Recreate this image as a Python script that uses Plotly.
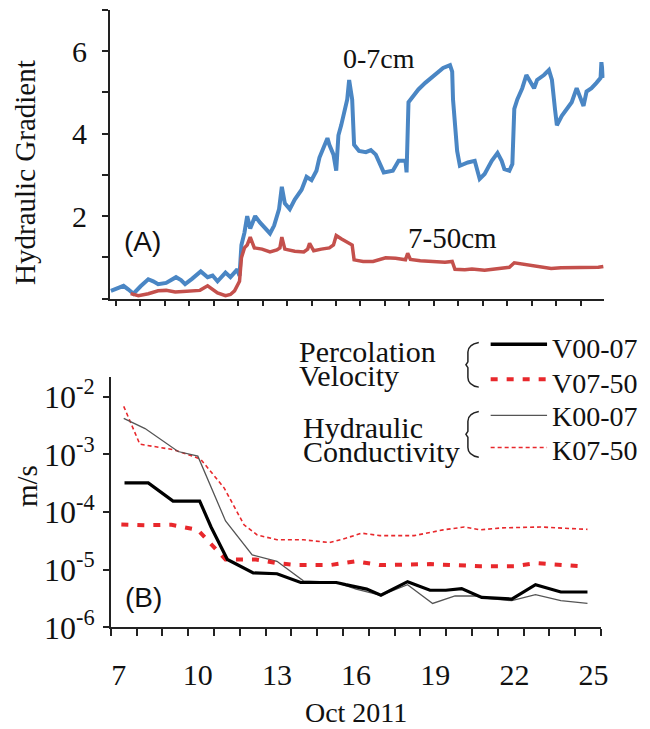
import plotly.graph_objects as go

W, H = 650, 729

# ---- Panel A: hydraulic gradient (days in Oct 2011) ----
grad_top_day = [7.04, 7.25, 7.50, 7.68, 7.86, 8.12, 8.40, 8.58, 8.76, 9.05, 9.41, 9.59, 9.74, 9.99,
                 10.20, 10.31, 10.56, 10.74, 10.92, 11.21, 11.39, 11.64, 11.72, 11.79, 11.90, 12.00,
                 12.11, 12.29, 12.47, 12.65, 12.83, 12.98, 13.16, 13.26, 13.37, 13.55, 13.73, 13.98,
                 14.16, 14.34, 14.52, 14.63, 14.78, 14.92, 14.99, 15.14, 15.24, 15.32, 15.42, 15.53,
                 15.64, 15.71, 15.82, 15.89, 16.07, 16.32, 16.50, 16.68, 16.86, 16.97, 17.30, 17.51,
                 17.76, 17.80, 17.87, 18.02, 18.23, 18.48, 18.84, 19.13, 19.38, 19.46, 19.49, 19.64,
                 19.74, 20.03, 20.28, 20.39, 20.46, 20.64, 20.90, 21.11, 21.26, 21.36, 21.54, 21.65,
                 21.72, 21.83, 22.01, 22.16, 22.26, 22.44, 22.55, 22.80, 22.98, 23.09, 23.20, 23.27,
                 23.45, 23.63, 23.81, 23.99, 24.14, 24.24, 24.35, 24.53, 24.71, 24.86, 24.89, 24.96]
grad_top = [0.19, 0.25, 0.31, 0.22, 0.12, 0.30, 0.47, 0.42, 0.35, 0.38, 0.52, 0.45, 0.35, 0.48,
            0.59, 0.66, 0.52, 0.56, 0.42, 0.63, 0.52, 0.71, 0.55, 1.30, 1.60, 2.00,
            1.70, 2.00, 1.84, 1.70, 1.58, 1.77, 2.17, 2.71, 2.31, 2.17, 2.40, 2.64,
            2.95, 2.87, 3.10, 3.42, 3.65, 3.89, 3.73, 3.49, 3.10, 3.96, 4.20, 4.52,
            4.83, 5.30, 4.83, 3.73, 3.58, 3.55, 3.60, 3.49, 3.22, 3.06, 3.10, 3.34,
            3.34, 3.06, 4.76, 4.90, 5.07, 5.23, 5.42, 5.59, 5.66, 5.50, 4.83, 3.58,
            3.22, 3.30, 3.34, 3.10, 2.90, 3.02, 3.34, 3.53, 3.34, 3.14, 3.10, 3.26,
            4.60, 4.83, 5.10, 5.42, 5.30, 5.10, 5.30, 5.42, 5.54, 5.30, 4.60, 4.20,
            4.43, 4.60, 4.76, 5.10, 4.80, 4.67, 5.02, 5.10, 5.23, 5.35, 5.73, 5.35]

grad_sub_day = [7.76, 8.04, 8.40, 8.76, 9.05, 9.38, 9.66, 9.95, 10.28, 10.56, 10.74, 10.92, 11.21,
                11.39, 11.54, 11.72, 11.79, 11.90, 12.00, 12.11, 12.26, 12.54, 12.83, 13.08, 13.19,
                13.26, 13.37, 13.73, 14.06, 14.20, 14.27, 14.42, 14.70, 14.99, 15.14, 15.24, 15.42,
                15.60, 15.71, 15.82, 15.89, 16.22, 16.58, 16.79, 17.04, 17.40, 17.76, 17.84, 17.94,
                18.30, 18.74, 19.20, 19.46, 19.56, 19.92, 20.18, 20.64, 20.90, 21.18, 21.36, 21.54,
                21.72, 22.08, 22.34, 22.70, 23.06, 23.42, 23.78, 24.14, 24.50, 24.78, 24.96]
grad_sub = [0.12, 0.07, 0.12, 0.19, 0.20, 0.16, 0.17, 0.19, 0.20, 0.31, 0.22, 0.14, 0.07,
            0.10, 0.19, 0.42, 0.99, 1.23, 1.30, 1.49, 1.23, 1.20, 1.13, 1.18, 1.23,
            1.49, 1.20, 1.15, 1.13, 1.20, 1.34, 1.16, 1.20, 1.23, 1.30, 1.53, 1.45,
            1.38, 1.34, 1.30, 0.94, 0.90, 0.90, 0.95, 0.99, 0.98, 0.94, 1.10, 0.95,
            0.92, 0.90, 0.88, 0.90, 0.71, 0.70, 0.72, 0.69, 0.71, 0.72, 0.75, 0.76,
            0.87, 0.83, 0.80, 0.78, 0.73, 0.75, 0.75, 0.74, 0.75, 0.76, 0.78]

grad_ticks = [2, 4, 6]

# ---- Panel B: percolation velocity and hydraulic conductivity (m/s) ----
v0007_day = [7.22, 8.12, 9.06, 10.07, 10.50, 11.12, 12.10, 13.00, 13.90, 15.25, 15.60, 16.40,
             16.94, 17.95, 18.80, 19.40, 20.00, 20.76, 21.90, 22.80, 23.76, 24.77]
v0007 = [3.2e-4, 3.2e-4, 1.55e-4, 1.55e-4, 5.5e-5, 1.5e-5, 8.8e-6, 8.5e-6, 6.0e-6, 6.0e-6, 5.5e-6, 4.6e-6,
         3.6e-6, 6.2e-6, 4.4e-6, 4.4e-6, 4.7e-6, 3.3e-6, 3.1e-6, 5.5e-6, 4.1e-6, 4.1e-6]

v0750_day = [7.10, 8.00, 9.00, 10.00, 11.05, 12.20, 13.00, 13.75, 15.00, 16.00, 16.90, 18.80,
             20.70, 22.00, 22.80, 24.50]
v0750 = [6.1e-5, 5.9e-5, 6.0e-5, 4.9e-5, 1.5e-5, 1.5e-5, 1.3e-5, 1.2e-5, 1.2e-5, 1.4e-5, 1.2e-5, 1.25e-5,
         1.15e-5, 1.15e-5, 1.3e-5, 1.15e-5]

k0007_day = [7.19, 8.00, 9.25, 10.00, 11.05, 12.06, 13.00, 14.00, 15.25, 16.00, 16.94, 17.95,
             18.90, 19.75, 20.50, 20.90, 21.90, 22.80, 23.76, 24.77]
k0007 = [4.2e-3, 2.8e-3, 1.12e-3, 9.3e-4, 7.0e-5, 1.8e-5, 1.4e-5, 6.4e-6, 6.0e-6, 4.6e-6, 3.6e-6, 5.5e-6,
         2.6e-6, 3.5e-6, 3.5e-6, 3.2e-6, 2.9e-6, 3.7e-6, 2.9e-6, 2.6e-6]

k0750_day = [7.19, 7.80, 9.10, 10.10, 11.00, 11.75, 12.25, 13.00, 14.00, 15.00, 15.60, 16.20,
             16.90, 18.20, 19.30, 20.10, 20.70, 21.50, 23.00, 24.77]
k0750 = [6.8e-3, 1.5e-3, 1.2e-3, 8.3e-4, 2.6e-4, 6.0e-5, 4.0e-5, 3.3e-5, 3.3e-5, 2.95e-5, 3.5e-5, 4.3e-5,
         3.9e-5, 3.9e-5, 4.9e-5, 5.5e-5, 4.9e-5, 5.3e-5, 5.5e-5, 5.0e-5]

day_ticks = [7, 10, 13, 16, 19, 22, 25]
ms_ticks = [1e-6, 1e-5, 1e-4, 1e-3, 1e-2]
ms_ticktext = ["10<sup>-6</sup>", "10<sup>-5</sup>", "10<sup>-4</sup>", "10<sup>-3</sup>", "10<sup>-2</sup>"]

BLUE = "#4a86c4"
BROWN_RED = "#c4504c"
RED = "#e8282c"
SERIF = "Liberation Serif"
SANS = "Liberation Sans"

V_DASH = "7px,9px"
K_DASH = "4px,3px"


def px(x):
    return x / W


def py(y):
    return 1 - y / H


fig = go.Figure()

fig.add_trace(go.Scatter(x=grad_top_day, y=grad_top, mode="lines", xaxis="x", yaxis="y",
                         line=dict(color=BLUE, width=4), showlegend=False))
fig.add_trace(go.Scatter(x=grad_sub_day, y=grad_sub, mode="lines", xaxis="x", yaxis="y",
                         line=dict(color=BROWN_RED, width=3.5), showlegend=False))

fig.add_trace(go.Scatter(x=k0750_day, y=k0750, mode="lines", xaxis="x2", yaxis="y2",
                         line=dict(color=RED, width=1.6, dash=K_DASH), showlegend=False))
fig.add_trace(go.Scatter(x=k0007_day, y=k0007, mode="lines", xaxis="x2", yaxis="y2",
                         line=dict(color="#555555", width=1.3), showlegend=False))
fig.add_trace(go.Scatter(x=v0750_day, y=v0750, mode="lines", xaxis="x2", yaxis="y2",
                         line=dict(color=RED, width=4, dash=V_DASH), showlegend=False))
fig.add_trace(go.Scatter(x=v0007_day, y=v0007, mode="lines", xaxis="x2", yaxis="y2",
                         line=dict(color="black", width=3.2), showlegend=False))

axis_common = dict(showline=True, linecolor="#222222", linewidth=1.5, showgrid=False,
                   zeroline=False, tickcolor="#222222", tickwidth=1.5)

fig.update_layout(
    width=W, height=H,
    margin=dict(l=0, r=0, t=0, b=0),
    paper_bgcolor="white", plot_bgcolor="white",
    font=dict(family=SERIF, color="#111111"),
    xaxis=dict(domain=[px(111), px(611)], range=[7, 25], anchor="y",
               tickmode="array", tickvals=[], ticks="", showticklabels=False,
               minor=dict(ticks="outside", ticklen=6, tick0=7.216, dtick=0.8906,
                          tickcolor="#222222", tickwidth=1.5),
               **axis_common),
    yaxis=dict(domain=[py(305), py(8)], range=[0, 7.001], anchor="x",
               tickmode="array", tickvals=grad_ticks,
               ticks="outside", ticklen=6, ticklabelstandoff=9,
               tickfont=dict(family=SERIF, size=30),
               minor=dict(ticks="outside", ticklen=6, tick0=0, dtick=1,
                          tickcolor="#222222", tickwidth=1.5),
               **axis_common),
    xaxis2=dict(domain=[px(112), px(608)], range=[6.70, 25.30], anchor="y2",
                tickmode="array", tickvals=day_ticks, ticks="",
                tickfont=dict(family=SERIF, size=30), ticklabelstandoff=20,
                minor=dict(ticks="outside", ticklen=7, tick0=6.70, dtick=0.978,
                           tickcolor="#222222", tickwidth=1.5),
                title=dict(text="Oct 2011", font=dict(family=SERIF, size=28), standoff=12),
                **axis_common),
    yaxis2=dict(domain=[py(643), py(386)], type="log", range=[-6, -1.666], anchor="x2",
                tickmode="array", tickvals=ms_ticks, ticktext=ms_ticktext,
                ticks="outside", ticklen=6, ticklabelstandoff=2,
                tickfont=dict(family=SERIF, size=32),
                **axis_common),
)

annots = [
    dict(text="Hydraulic Gradient", x=px(25), y=py(175), textangle=-90, font=dict(family=SERIF, size=29)),
    dict(text="m/s", x=px(28), y=py(498), textangle=-90, font=dict(family=SERIF, size=29)),
    dict(text="0-7cm", x=px(383), y=py(58), font=dict(family=SERIF, size=28)),
    dict(text="7-50cm", x=px(457), y=py(243), font=dict(family=SERIF, size=29)),
    dict(text="(A)", x=px(144), y=py(246), font=dict(family=SANS, size=28)),
    dict(text="(B)", x=px(145), y=py(612), font=dict(family=SANS, size=28)),
    dict(text="Percolation", x=px(300), y=py(359), xanchor="left", font=dict(family=SERIF, size=30)),
    dict(text="Velocity", x=px(300), y=py(384), xanchor="left", font=dict(family=SERIF, size=30)),
    dict(text="Hydraulic", x=px(304), y=py(437), xanchor="left", font=dict(family=SERIF, size=30)),
    dict(text="Conductivity", x=px(304), y=py(462), xanchor="left", font=dict(family=SERIF, size=30)),
    dict(text="V00-07", x=px(556), y=py(356), xanchor="left", font=dict(family=SERIF, size=28)),
    dict(text="V07-50", x=px(556), y=py(392), xanchor="left", font=dict(family=SERIF, size=28)),
    dict(text="K00-07", x=px(556), y=py(426), xanchor="left", font=dict(family=SERIF, size=28)),
    dict(text="K07-50", x=px(556), y=py(461), xanchor="left", font=dict(family=SERIF, size=28)),
]
for a in annots:
    a.setdefault("xanchor", "center")
    fig.add_annotation(xref="paper", yref="paper", yanchor="middle", showarrow=False, **a)

# legend samples
samples = [
    (352, dict(color="black", width=3.5)),
    (388, dict(color=RED, width=4, dash=V_DASH)),
    (425, dict(color="#555555", width=1.3)),
    (458, dict(color=RED, width=1.6, dash=K_DASH)),
]
for yy, ln in samples:
    fig.add_shape(type="line", xref="paper", yref="paper",
                  x0=px(496), x1=px(553), y0=py(yy), y1=py(yy), line=ln)

# group braces
for top, bot in [(350, 396), (421, 468)]:
    mid = (top + bot) / 2
    path = (f"M {px(484)} {py(top)} Q {px(473)} {py(top + 2)} {px(473)} {py(top + 10)} "
            f"L {px(473)} {py(mid - 3)} L {px(471)} {py(mid)} L {px(473)} {py(mid + 3)} "
            f"L {px(473)} {py(bot - 10)} Q {px(473)} {py(bot - 2)} {px(484)} {py(bot)}")
    fig.add_shape(type="path", xref="paper", yref="paper", path=path,
                  line=dict(color="#222222", width=1.5))

fig.write_html("out.html")
